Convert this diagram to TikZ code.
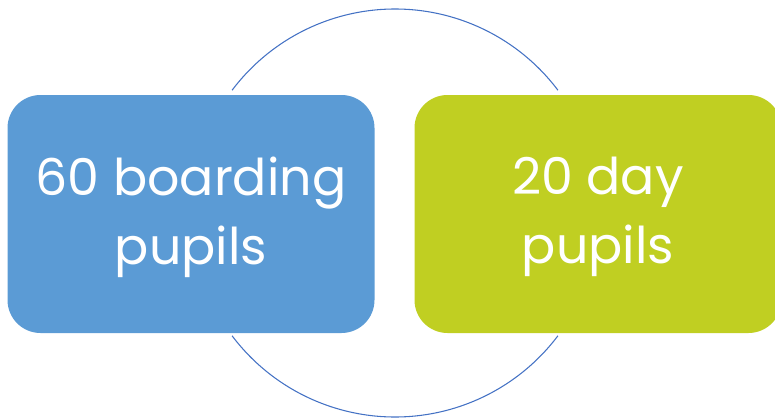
\documentclass[tikz,border=0pt]{standalone}
\usepackage{fontspec}
\setmainfont{Poppins}
\usepackage{tikz}
\usetikzlibrary{calc}

\definecolor{boardblue}{HTML}{5B9BD5}
\definecolor{daygreen}{HTML}{C0CF22}
\definecolor{ringblue}{HTML}{4472C4}

\tikzset{
    pupilbox/.style={rounded corners=24.75pt, minimum width=275.25pt, minimum height=178.5pt,
        text=white, align=center, inner sep=0pt,
        font=\fontsize{38}{51.5}\selectfont},
    ring/.style={ringblue, line width=0.8pt}
}

\begin{document}
\begin{tikzpicture}[x=0.75pt,y=0.75pt]
    \useasboundingbox (0,0) rectangle (775,419);
    %% Boxes
    \node[pupilbox, fill=boardblue] (boarding) at (191,205) {};
    \node[pupilbox, fill=daygreen] (day) at (598,205) {};
    \node[text=white, align=center, font=\fontsize{38}{51.5}\selectfont] (boardtext) at ($(boarding.center)+(0,-3)$) {60 boarding\\pupils};
    \node[text=white, align=center, font=\fontsize{38}{51.5}\selectfont] (daytext) at ($(day.center)+(0,-3)$) {20 day\\pupils};
    %% Ring
    \coordinate (centre) at (395,206);
    \draw[ring]
    ($(centre)+(37:204)$) arc(37:143:204)
    ($(centre)+(217:204)$) arc(217:323:204)
    ;
\end{tikzpicture}
\end{document}
